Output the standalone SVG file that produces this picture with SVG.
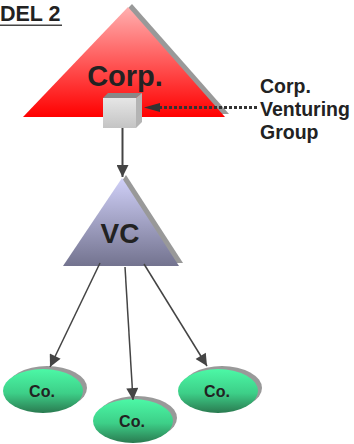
<svg xmlns="http://www.w3.org/2000/svg" width="354" height="444" viewBox="0 0 354 444">
<style>
text{font-family:"Liberation Sans",Arial,sans-serif;font-weight:bold;fill:#222}
.shadow{fill:#999}
.conn{stroke:#444;stroke-width:1.5;fill:none}
</style>
<defs>
<linearGradient id="gRed" x1="0" y1="0" x2="0" y2="1"><stop offset="0" stop-color="#ffb0b0"/><stop offset="1" stop-color="#ff0000"/></linearGradient>
<linearGradient id="gVC" x1="0" y1="0" x2="0" y2="1"><stop offset="0" stop-color="#d0d0f8"/><stop offset="1" stop-color="#73738f"/></linearGradient>
<linearGradient id="gCo" x1="0" y1="0" x2="0" y2="1"><stop offset="0" stop-color="#4cf8a6"/><stop offset="0.55" stop-color="#3dcf88"/><stop offset="1" stop-color="#2a7a50"/></linearGradient>
<linearGradient id="gBox" x1="0" y1="0" x2="0" y2="1"><stop offset="0" stop-color="#e6e6e6"/><stop offset="1" stop-color="#c4c4c4"/></linearGradient>
<marker id="arr" viewBox="0 0 10 10" refX="10" refY="5" markerWidth="14" markerHeight="12" markerUnits="userSpaceOnUse" orient="auto"><path d="M0,0 L10,5 L0,10 z" fill="#444"/></marker>
</defs>
<g id="title">
<text x="0" y="21" font-size="21.5">DEL 2</text>
<rect x="0" y="24.5" width="62" height="1.5" fill="#444"/>
</g>
<g id="corp">
<polygon class="shadow" points="132,4 27,114 229,114"/>
<polygon points="128,7 23,117 225,117" fill="url(#gRed)"/>
<text x="125" y="86" font-size="29" text-anchor="middle">Corp.</text>
</g>
<g id="cvg-box">
<polygon points="103,98 108,93 142,93 136,98" fill="#888"/>
<polygon points="136,98 142,93 142,122 136,128" fill="#b4b4b4"/>
<rect x="103" y="98" width="33" height="30" fill="url(#gBox)"/>
</g>
<g id="cvg-label">
<text x="260" y="93" font-size="19.5">Corp.</text>
<text x="260" y="116" font-size="19.5">Venturing</text>
<text x="260" y="139" font-size="19.5">Group</text>
</g>
<g id="vc">
<polygon class="shadow" points="126,175 67,263 183,263"/>
<polygon points="122,178 63,266 179,266" fill="url(#gVC)"/>
<text x="120" y="243" font-size="28" text-anchor="middle">VC</text>
</g>
<g id="co1">
<ellipse class="shadow" cx="47" cy="388" rx="40" ry="22"/>
<ellipse cx="43" cy="391" rx="40" ry="22" fill="url(#gCo)"/>
<text x="42" y="397" font-size="16" text-anchor="middle">Co.</text>
</g>
<g id="co2">
<ellipse class="shadow" cx="137" cy="418" rx="40" ry="22"/>
<ellipse cx="133" cy="421" rx="40" ry="22" fill="url(#gCo)"/>
<text x="132" y="427" font-size="16" text-anchor="middle">Co.</text>
</g>
<g id="co3">
<ellipse class="shadow" cx="222" cy="388" rx="40" ry="22"/>
<ellipse cx="218" cy="391" rx="40" ry="22" fill="url(#gCo)"/>
<text x="217" y="397" font-size="16" text-anchor="middle">Co.</text>
</g>
<g id="connectors">
<line x1="257" y1="107.5" x2="160" y2="107.5" stroke="#333" stroke-width="3" stroke-dasharray="3,2"/>
<polygon points="144,107.5 160,103 160,112" fill="#333"/>
<line x1="122.5" y1="128" x2="122.5" y2="177" stroke="#444" stroke-width="2" marker-end="url(#arr)"/>
<line class="conn" x1="100" y1="263" x2="50" y2="367" marker-end="url(#arr)"/>
<line class="conn" x1="125" y1="267" x2="133" y2="400" marker-end="url(#arr)"/>
<line class="conn" x1="144" y1="264" x2="207" y2="366" marker-end="url(#arr)"/>
</g>
</svg>
